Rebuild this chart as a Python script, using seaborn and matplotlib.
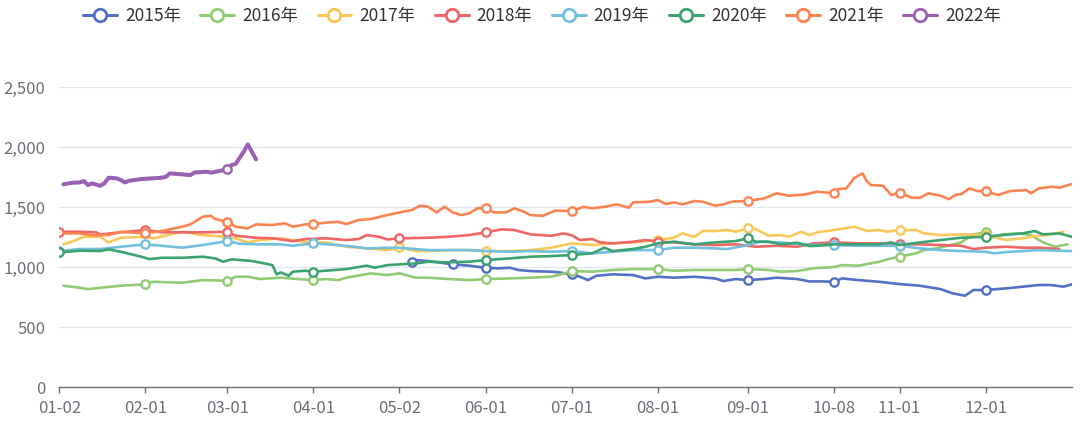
import matplotlib
matplotlib.use('Agg')
import matplotlib.pyplot as plt
import seaborn as sns
from matplotlib.lines import Line2D
from matplotlib.ticker import FuncFormatter

# shared date axis: position = trading-day number from 01-02
tick_days = [0, 21, 41, 62, 83, 104, 125, 146, 168, 189, 205, 226]
tick_labels = ['01-02', '02-01', '03-01', '04-01', '05-02', '06-01',
               '07-01', '08-01', '09-01', '10-08', '11-01', '12-01']
last_day = 247

years = ['2015年', '2016年', '2017年', '2018年', '2019年', '2020年', '2021年', '2022年']
colors = ['#5470c6', '#91cc75', '#fac858', '#ee6666', '#73c0de', '#3ba272', '#fc8452', '#9a60b4']

days_2015 = [86, 87, 90, 96, 100, 104, 107, 110, 112, 115,
             120, 122, 125, 127, 129, 131, 135, 140, 143, 146,
             150, 155, 160, 162, 165, 168, 172, 175, 180, 183,
             186, 189, 191, 195, 200, 205, 210, 215, 218, 221,
             223, 226, 231, 235, 239, 242, 245, 247]
price_2015 = [1044, 1058, 1050, 1022, 1011, 994, 989, 994, 975, 966,
              961, 955, 939, 919, 891, 927, 939, 933, 905, 919,
              911, 919, 905, 883, 900, 891, 900, 911, 900, 880,
              880, 877, 905, 891, 877, 858, 844, 816, 780, 761,
              808, 808, 822, 836, 850, 850, 836, 855]
marks_2015 = [86, 96, 104, 125, 168, 189, 226]

days_2016 = [1, 5, 7, 10, 15, 21, 23, 30, 35, 41,
             43, 46, 49, 54, 58, 62, 65, 68, 70, 76,
             80, 83, 87, 90, 95, 100, 104, 110, 115, 120,
             122, 125, 130, 135, 140, 146, 150, 155, 160, 165,
             168, 173, 176, 180, 184, 189, 191, 195, 200, 203,
             205, 209, 211, 214, 220, 223, 226, 228, 230, 234,
             237, 240, 243, 246]
price_2016 = [844, 827, 816, 827, 844, 855, 877, 869, 891, 886,
              919, 919, 900, 911, 900, 891, 900, 891, 911, 947,
              933, 947, 911, 911, 900, 891, 900, 905, 911, 919,
              935, 966, 961, 975, 983, 983, 969, 975, 975, 975,
              983, 975, 961, 966, 990, 1000, 1016, 1011, 1044, 1072,
              1086, 1114, 1141, 1155, 1205, 1272, 1289, 1244, 1272, 1280,
              1266, 1205, 1169, 1190]
marks_2016 = [21, 41, 62, 104, 125, 146, 168, 205, 226]

days_2017 = [1, 3, 6, 10, 12, 15, 21, 23, 30, 35,
             41, 43, 46, 49, 54, 60, 65, 70, 75, 80,
             83, 87, 90, 95, 100, 104, 110, 115, 120, 125,
             130, 135, 140, 146, 150, 152, 155, 157, 160, 163,
             165, 168, 170, 173, 176, 178, 181, 183, 185, 189,
             194, 197, 200, 202, 205, 209, 211, 215, 220, 226,
             231, 235, 239, 242, 245]
price_2017 = [1189, 1211, 1252, 1252, 1205, 1244, 1252, 1239, 1294, 1266,
              1252, 1239, 1205, 1225, 1239, 1208, 1205, 1169, 1155, 1141,
              1164, 1133, 1133, 1141, 1141, 1133, 1133, 1141, 1161, 1197,
              1183, 1197, 1205, 1225, 1244, 1280, 1252, 1300, 1300, 1308,
              1294, 1322, 1316, 1261, 1266, 1252, 1294, 1266, 1290, 1308,
              1336, 1300, 1308, 1294, 1308, 1308, 1280, 1266, 1272, 1266,
              1225, 1239, 1261, 1272, 1294]
marks_2017 = [41, 83, 104, 146, 168, 205, 226]

days_2018 = [0, 5, 9, 10, 15, 21, 25, 30, 35, 41,
             43, 48, 52, 57, 60, 65, 70, 73, 75, 78,
             80, 83, 90, 95, 100, 104, 108, 111, 115, 120,
             123, 125, 127, 130, 132, 135, 140, 143, 146, 150,
             155, 160, 165, 170, 175, 180, 184, 189, 195, 200,
             205, 210, 215, 220, 223, 226, 231, 235, 239, 244]
price_2018 = [1294, 1294, 1289, 1272, 1289, 1308, 1289, 1289, 1289, 1294,
              1261, 1244, 1239, 1216, 1233, 1239, 1225, 1233, 1266, 1252,
              1230, 1239, 1244, 1252, 1266, 1289, 1314, 1308, 1272, 1260,
              1280, 1265, 1225, 1233, 1205, 1197, 1211, 1225, 1211, 1205,
              1189, 1183, 1189, 1169, 1177, 1169, 1197, 1205, 1197, 1197,
              1189, 1189, 1183, 1177, 1150, 1161, 1169, 1161, 1161, 1150]
marks_2018 = [0, 21, 41, 83, 104, 146, 189, 205]

days_2019 = [0, 5, 10, 15, 21, 25, 30, 35, 41, 44,
             49, 54, 57, 62, 65, 70, 75, 80, 83, 90,
             95, 100, 104, 110, 115, 120, 125, 130, 135, 140,
             146, 150, 155, 160, 163, 168, 171, 176, 181, 184,
             189, 195, 200, 205, 210, 215, 220, 226, 228, 232,
             239, 247]
price_2019 = [1133, 1150, 1150, 1169, 1189, 1177, 1161, 1183, 1216, 1194,
              1189, 1189, 1177, 1197, 1190, 1177, 1155, 1161, 1161, 1141,
              1141, 1141, 1133, 1127, 1133, 1127, 1133, 1114, 1127, 1141,
              1141, 1161, 1161, 1155, 1150, 1183, 1211, 1205, 1189, 1185,
              1183, 1177, 1177, 1177, 1155, 1141, 1133, 1127, 1114, 1127,
              1141, 1133]
marks_2019 = [0, 21, 41, 62, 125, 146, 189, 205]

days_2020 = [0, 5, 10, 12, 15, 20, 22, 25, 30, 35,
             38, 40, 42, 47, 50, 52, 53, 54, 56, 57,
             60, 62, 70, 75, 77, 80, 83, 87, 90, 95,
             100, 104, 110, 115, 120, 125, 130, 133, 135, 140,
             143, 146, 150, 155, 160, 165, 168, 170, 173, 176,
             180, 183, 185, 189, 195, 200, 203, 205, 210, 215,
             220, 226, 230, 235, 238, 240, 244, 247]
price_2020 = [1122, 1136, 1133, 1147, 1127, 1086, 1066, 1077, 1077, 1086,
              1072, 1044, 1064, 1050, 1030, 1016, 939, 955, 927, 961,
              969, 961, 983, 1011, 994, 1016, 1022, 1030, 1044, 1039,
              1044, 1058, 1072, 1086, 1091, 1100, 1114, 1161, 1133, 1150,
              1169, 1197, 1211, 1189, 1205, 1216, 1239, 1211, 1211, 1189,
              1202, 1175, 1177, 1189, 1189, 1189, 1205, 1183, 1205, 1225,
              1244, 1252, 1266, 1280, 1300, 1272, 1280, 1252]
marks_2020 = [0, 62, 104, 125, 168, 226]

days_2021 = [1, 5, 8, 12, 15, 21, 25, 30, 32, 35,
             37, 38, 41, 43, 46, 48, 52, 55, 57, 60,
             62, 65, 68, 70, 73, 76, 80, 83, 86, 88,
             90, 92, 94, 96, 98, 100, 102, 104, 106, 109,
             111, 113, 115, 118, 121, 125, 128, 130, 133, 136,
             139, 140, 144, 146, 148, 150, 152, 155, 157, 160,
             162, 164, 168, 172, 175, 178, 182, 185, 189, 190,
             192, 194, 196, 197, 198, 201, 203, 205, 208, 210,
             212, 215, 217, 219, 220, 222, 224, 226, 229, 232,
             236, 237, 239, 242, 244, 247]
price_2021 = [1280, 1280, 1266, 1266, 1294, 1280, 1300, 1336, 1355, 1419,
              1427, 1400, 1377, 1336, 1322, 1355, 1350, 1364, 1336, 1355,
              1358, 1370, 1377, 1358, 1391, 1400, 1433, 1455, 1475, 1511,
              1502, 1455, 1502, 1455, 1433, 1447, 1489, 1494, 1455, 1455,
              1489, 1466, 1433, 1427, 1470, 1466, 1502, 1489, 1502, 1522,
              1494, 1539, 1544, 1558, 1525, 1539, 1522, 1550, 1544, 1511,
              1522, 1544, 1550, 1572, 1614, 1594, 1605, 1628, 1614, 1650,
              1655, 1744, 1780, 1716, 1683, 1677, 1600, 1619, 1577, 1577,
              1614, 1594, 1566, 1605, 1605, 1655, 1633, 1633, 1600, 1633,
              1641, 1614, 1655, 1669, 1661, 1691]
marks_2021 = [21, 41, 62, 104, 125, 168, 189, 205, 226]

days_2022 = [1, 3, 5, 6, 7, 8, 10, 11, 12, 14,
             15, 16, 17, 20, 25, 26, 27, 30, 32, 33,
             36, 37, 41, 42, 43, 45, 46, 48]
price_2022 = [1689, 1702, 1705, 1716, 1683, 1697, 1677, 1697, 1744, 1739,
              1725, 1705, 1719, 1733, 1744, 1752, 1780, 1772, 1766, 1788,
              1794, 1786, 1814, 1850, 1858, 1961, 2022, 1897]
marks_2022 = [41]

all_days = [days_2015, days_2016, days_2017, days_2018, days_2019, days_2020, days_2021, days_2022]
all_prices = [price_2015, price_2016, price_2017, price_2018, price_2019, price_2020, price_2021, price_2022]
all_marks = [marks_2015, marks_2016, marks_2017, marks_2018, marks_2019, marks_2020, marks_2021, marks_2022]

sns.set_style('white')
plt.rcParams['font.family'] = ['Noto Sans CJK SC', 'DejaVu Sans']

fig = plt.figure(figsize=(10.8, 4.22), dpi=100)
ax = fig.add_axes([0.0549, 0.0829, 0.9374, 0.7109])

for i in range(len(years)):
    lw = 2.9 if i == 7 else 1.9
    sns.lineplot(x=all_days[i], y=all_prices[i], color=colors[i], linewidth=lw,
                 sort=False, estimator=None, ax=ax, zorder=3 + i * 2,
                 solid_joinstyle='round', solid_capstyle='round')
    md = [d for d in all_days[i] if d in all_marks[i]]
    mp = [p for d, p in zip(all_days[i], all_prices[i]) if d in all_marks[i]]
    sns.scatterplot(x=md, y=mp, s=36, facecolor='white', edgecolor=colors[i],
                    linewidth=1.7, ax=ax, zorder=4 + i * 2)

ax.set_xlim(0, last_day)
ax.set_ylim(0, 2500)
ax.set_yticks([0, 500, 1000, 1500, 2000, 2500])
ax.yaxis.set_major_formatter(FuncFormatter(lambda v, p: f'{int(v):,}'))
ax.set_xticks(tick_days)
ax.set_xticklabels(tick_labels)
ax.grid(axis='y', color='#e0e6f1', linewidth=1)
ax.grid(axis='x', visible=False)
for s in ['top', 'right', 'left']:
    ax.spines[s].set_visible(False)
ax.spines['bottom'].set_color('#6e7079')
ax.spines['bottom'].set_linewidth(1)
ax.tick_params(axis='x', colors='#6e7079', length=4, width=1, direction='out',
               labelsize=12, pad=5, bottom=True)
ax.tick_params(axis='y', colors='#6e7079', length=0, labelsize=12, pad=10)
ax.set_xlabel('')
ax.set_ylabel('')

handles = [Line2D([0], [0], color=c, linewidth=2.2, marker='o', markersize=9,
                  markerfacecolor='white', markeredgecolor=c, markeredgewidth=2.0)
           for c in colors]
fig.legend(handles, years, loc='upper center', bbox_to_anchor=(0.502, 1.02), ncol=8,
           frameon=False, fontsize=12.5, handlelength=1.95, handletextpad=0.46,
           columnspacing=1.12, labelcolor='#333333')

fig.savefig('out.png', dpi=100)
